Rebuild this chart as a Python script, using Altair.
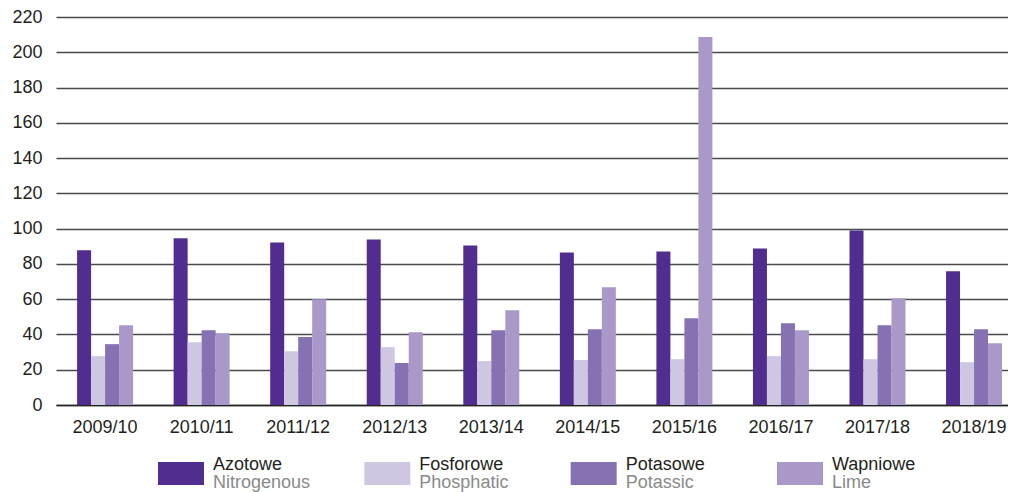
import altair as alt
import pandas as pd

years = ["2009/10", "2010/11", "2011/12", "2012/13", "2013/14",
         "2014/15", "2015/16", "2016/17", "2017/18", "2018/19"]
series_pl = ["Azotowe", "Fosforowe", "Potasowe", "Wapniowe"]
series_en = ["Nitrogenous", "Phosphatic", "Potassic", "Lime"]
colors = ["#512d8f", "#cfc7e2", "#8672b3", "#a998c8"]

azotowe = [87.7, 94.5, 92.2, 93.9, 90.5, 86.5, 87.0, 88.8, 99.0, 75.8]
fosforowe = [27.7, 35.6, 30.5, 32.8, 24.9, 25.5, 26.0, 27.7, 26.0, 24.3]
potasowe = [34.5, 42.4, 38.5, 23.8, 42.4, 43.0, 49.2, 46.4, 45.2, 43.0]
wapniowe = [45.2, 40.7, 60.0, 41.3, 53.7, 66.7, 208.7, 42.4, 60.5, 35.0]

rows = []
for s, vals in zip(series_pl, [azotowe, fosforowe, potasowe, wapniowe]):
    for y, v in zip(years, vals):
        rows.append({"year": y, "series": s, "value": v})
df = pd.DataFrame(rows)

color_scale = alt.Scale(domain=series_pl, range=colors)

main = alt.Chart(df).mark_bar().encode(
    x=alt.X("year:N", sort=years,
            scale=alt.Scale(paddingInner=0.42, paddingOuter=0.14, align=0.78),
            axis=alt.Axis(title=None, labelAngle=0, labelFontSize=18, labelPadding=13,
                          ticks=False, domainColor="#222", domainWidth=1.5,
                          labelColor="#231f20")),
    xOffset=alt.XOffset("series:N", sort=series_pl,
                        scale=alt.Scale(paddingInner=0, paddingOuter=0)),
    y=alt.Y("value:Q", scale=alt.Scale(domain=[0, 220]),
            axis=alt.Axis(values=list(range(0, 221, 20)), title=None, ticks=False,
                          domain=False, labelPadding=14, labelFontSize=18,
                          labelColor="#231f20", gridColor="#4a4a4a", gridWidth=1.4)),
    color=alt.Color("series:N", scale=color_scale, legend=None),
).properties(width=952, height=388)

leg_df = pd.DataFrame({"pl": series_pl, "en": series_en})
leg_x = alt.X("pl:N", sort=series_pl,
              scale=alt.Scale(type="point", range=[125, 744], padding=0), axis=None)

swatch = alt.Chart(leg_df).mark_rect(width=46).encode(
    x=leg_x, y=alt.value(6), y2=alt.value(29),
    color=alt.Color("pl:N", scale=color_scale, legend=None),
)
text_pl = alt.Chart(leg_df).mark_text(align="left", baseline="alphabetic", dx=32,
                                      fontSize=18, color="#231f20").encode(
    x=leg_x, y=alt.value(14), text="pl:N")
text_en = alt.Chart(leg_df).mark_text(align="left", baseline="alphabetic", dx=32,
                                      fontSize=18, color="#8a8a8a").encode(
    x=leg_x, y=alt.value(32), text="en:N")

legend = alt.layer(swatch, text_pl, text_en).properties(width=952, height=32)

chart = alt.vconcat(main, legend, spacing=20).properties(
    padding={"left": 3, "top": 0, "right": 0, "bottom": 0}
).configure(font="Liberation Sans").configure_view(stroke=None)

chart.save("out.html", embed_options={"renderer": "svg", "actions": False})
